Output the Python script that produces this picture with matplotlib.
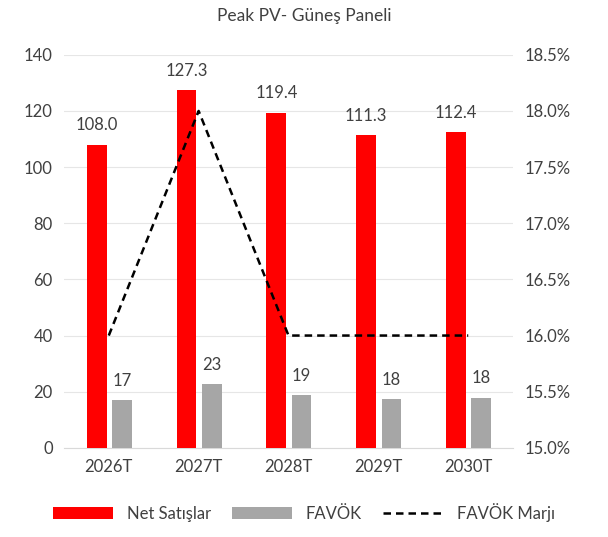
import numpy as np
import matplotlib
matplotlib.use("Agg")
import matplotlib.pyplot as plt
from matplotlib.ticker import FuncFormatter

years = ["2026T", "2027T", "2028T", "2029T", "2030T"]
net_sales = [108.0, 127.3, 119.4, 111.3, 112.4]
ebitda = [16.9, 22.6, 18.8, 17.3, 17.9]
ebitda_labels = ["17", "23", "19", "18", "18"]
margin = [16.0, 18.0, 16.0, 16.0, 16.0]

plt.rcParams["font.family"] = ["Lato", "DejaVu Sans"]
text_color = "#404040"

fig = plt.figure(figsize=(6.08, 5.37), dpi=100)
ax = fig.add_axes([0.105, 0.166, 0.739, 0.732])
ax2 = ax.twinx()

x = np.arange(len(years))
w = 0.22
b1 = ax.bar(x - 0.135, net_sales, w, color="#FF0000", label="Net Satışlar", zorder=3)
b2 = ax.bar(x + 0.145, ebitda, w, color="#A6A6A6", label="FAVÖK", zorder=3)
ln, = ax2.plot(x, margin, color="black", linestyle=(0, (3, 2)), lw=1.8, label="FAVÖK Marjı")

for xi, v in zip(x, net_sales):
    ax.text(xi - 0.135, v + 4, f"{v:.1f}", ha="center", va="bottom", fontsize=12, color=text_color)
for xi, v, lab in zip(x, ebitda, ebitda_labels):
    ax.text(xi + 0.145, v + 4, lab, ha="center", va="bottom", fontsize=12, color=text_color)

ax.set_xlim(-0.5, 4.5)
ax.set_ylim(0, 140)
ax.set_yticks(range(0, 141, 20))
ax.set_xticks(x)
ax.set_xticklabels(years)
ax.grid(axis="y", color="#E6E6E6", lw=0.8, zorder=0)
ax2.set_ylim(15.0, 18.5)
ax2.set_yticks(np.arange(15.0, 18.51, 0.5))
ax2.yaxis.set_major_formatter(FuncFormatter(lambda v, p: f"{v:.1f}%"))

for a in (ax, ax2):
    for s in a.spines.values():
        s.set_visible(False)
    a.tick_params(length=0, labelsize=12, colors=text_color, pad=8)
ax.spines["bottom"].set_visible(True)
ax.spines["bottom"].set_color("#D9D9D9")

fig.suptitle("Peak PV- Güneş Paneli", y=0.985, fontsize=12.5, color=text_color)
fig.legend([b1, b2, ln], ["Net Satışlar", "FAVÖK", "FAVÖK Marjı"], loc="lower center",
           bbox_to_anchor=(0.5, 0.0), ncol=3, frameon=False, fontsize=12,
           labelcolor=text_color, handlelength=3.6, columnspacing=1.3, handleheight=0.7)

fig.savefig("out.png", dpi=100)
